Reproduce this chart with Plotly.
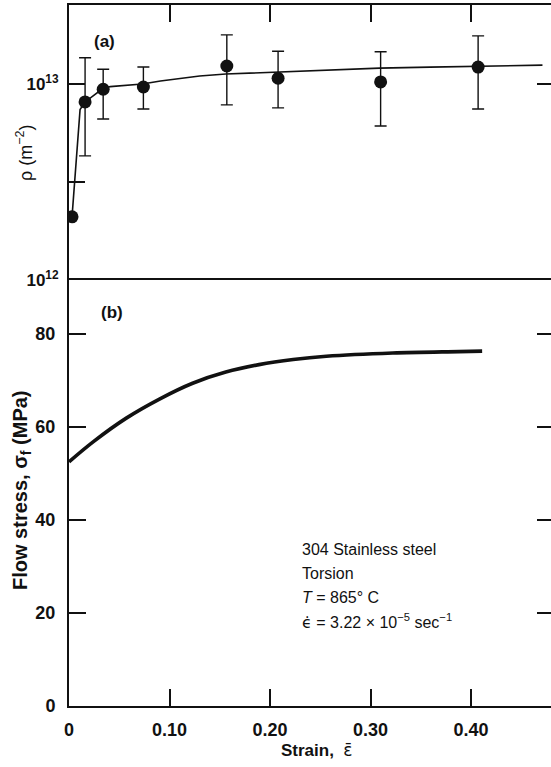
import plotly.graph_objects as go

# ---------------- data ----------------
strain_pts = [0.003, 0.016, 0.034, 0.074, 0.157, 0.208, 0.310, 0.407]
rho_pts = [2.1e12, 8.1e12, 9.4e12, 9.65e12, 1.235e13, 1.07e13, 1.025e13, 1.22e13]
rho_hi = [2.1e12, 1.36e13, 1.19e13, 1.22e13, 1.78e13, 1.47e13, 1.46e13, 1.76e13]
rho_lo = [2.1e12, 4.3e12, 6.63e12, 7.45e12, 7.82e12, 7.55e12, 6.11e12, 7.45e12]

fit_strain = [0.003, 0.011, 0.016, 0.033, 0.041, 0.073, 0.091, 0.130, 0.156,
              0.207, 0.260, 0.309, 0.359, 0.407, 0.471]
fit_rho = [2.1e12, 7.4e12, 8.1e12, 9.43e12, 9.7e12, 1.0e13, 1.035e13, 1.098e13,
           1.124e13, 1.151e13, 1.178e13, 1.205e13, 1.219e13, 1.233e13, 1.248e13]

flow_strain = [0.0, 0.024, 0.057, 0.090, 0.123, 0.156, 0.189, 0.223, 0.256,
               0.322, 0.388, 0.411]
flow_stress = [52.5, 56.8, 61.9, 66.0, 69.4, 71.8, 73.4, 74.5, 75.2, 75.9, 76.2, 76.3]

x_ticks = [0, 0.1, 0.2, 0.3, 0.4]
x_ticktext = ["0", "0.10", "0.20", "0.30", "0.40"]
stress_ticks = [0, 20, 40, 60, 80]
rho_ticks = [1e12, 10 ** 12.5, 1e13]
rho_ticktext = ["10<sup>12</sup>", "", "10<sup>13</sup>"]

err_plus = [h - v for h, v in zip(rho_hi, rho_pts)]
err_minus = [v - l for l, v in zip(rho_lo, rho_pts)]

FONT = "Liberation Sans, Arial, Helvetica, sans-serif"
BLACK = "#111111"

fig = go.Figure()

fig.add_trace(go.Scatter(x=fit_strain, y=fit_rho, mode="lines",
                         line=dict(color=BLACK, width=1.6),
                         xaxis="x", yaxis="y", showlegend=False, hoverinfo="skip"))
fig.add_trace(go.Scatter(x=strain_pts, y=rho_pts, mode="markers",
                         marker=dict(color=BLACK, size=13, symbol="circle"),
                         error_y=dict(type="data", symmetric=False, array=err_plus,
                                      arrayminus=err_minus, color=BLACK,
                                      thickness=1.4, width=6),
                         xaxis="x", yaxis="y", showlegend=False))
fig.add_trace(go.Scatter(x=flow_strain, y=flow_stress, mode="lines",
                         line=dict(color=BLACK, width=3.6, shape="spline", smoothing=1.0),
                         xaxis="x2", yaxis="y2", showlegend=False))
# invisible traces so the right-hand tick axes are drawn
fig.add_trace(go.Scatter(x=flow_strain, y=flow_stress, mode="lines", opacity=0,
                         line=dict(width=0), xaxis="x2", yaxis="y3",
                         showlegend=False, hoverinfo="skip"))
fig.add_trace(go.Scatter(x=fit_strain, y=fit_rho, mode="lines", opacity=0,
                         line=dict(width=0), xaxis="x", yaxis="y4",
                         showlegend=False, hoverinfo="skip"))

SPLIT = (706 - 280) / 701.0
XR = [0, 0.4795]
tickfont = dict(family=FONT, size=18, color=BLACK, weight="bold")
common = dict(showgrid=False, zeroline=False, linecolor=BLACK, linewidth=2,
              tickcolor=BLACK, tickwidth=1.5)

fig.update_layout(
    width=551, height=767,
    margin=dict(l=69, r=0, t=5, b=61),
    paper_bgcolor="white", plot_bgcolor="white",
    xaxis=dict(domain=[0, 1], anchor="y", side="top", range=XR, showline=True,
               ticks="inside", ticklen=17, tickvals=x_ticks[1:], showticklabels=False,
               **common),
    yaxis=dict(domain=[SPLIT, 1], anchor="x", type="log", range=[12, 13.403],
               showline=True, ticks="inside", ticklen=16, tickvals=rho_ticks,
               ticktext=rho_ticktext, ticklabelstandoff=5,
               tickfont=dict(family=FONT, size=17, color=BLACK, weight="bold"),
               **common),
    yaxis4=dict(overlaying="y", anchor="x", side="right", type="log",
                range=[12, 13.403], showline=False, ticks="inside", ticklen=14,
                tickvals=[1e13], showticklabels=False, **common),
    xaxis2=dict(domain=[0, 1], anchor="y2", range=XR, showline=True, mirror=True,
                ticks="inside", ticklen=17, tickvals=x_ticks, ticktext=x_ticktext,
                tickfont=tickfont, ticklabelstandoff=6, **common),
    yaxis2=dict(domain=[0, SPLIT], anchor="x2", range=[0, 91.6], showline=True,
                ticks="inside", ticklen=17, tickvals=stress_ticks, tickfont=tickfont,
                ticklabelstandoff=8, **common),
    yaxis3=dict(overlaying="y2", anchor="x2", side="right", range=[0, 91.6],
                showline=False, ticks="inside", ticklen=14, tickvals=stress_ticks[1:],
                showticklabels=False, **common),
)

def px(xp):
    return (xp - 69) / 482.0

def py(yp):
    return (706 - yp) / 701.0

DV = "<span style='font-family:DejaVu Sans'>{}</span>"

ann = []
def add(text, x, y, size, angle=0, xanchor="center"):
    ann.append(dict(text=text, x=x, y=y, xref="paper", yref="paper", textangle=angle,
                    xanchor=xanchor, yanchor="middle", showarrow=False,
                    font=dict(family=FONT, size=size, color=BLACK)))

add("\u03c1 (m<sup>\u22122</sup>)", px(24), py(153), 18, -90)
add("<b>Flow stress, \u03c3<sub>f</sub> (MPa)</b>", px(21), py(490), 20, -90)
add("<b>Strain,  </b>" + DV.format("\u03b5\u0304"), px(317), py(750), 17)
add("<b>(a)</b>", px(104), py(42), 17)
add("<b>(b)</b>", px(112), py(313), 17)

lines = ["304 Stainless steel", "Torsion", "<i>T</i> = 865\u00b0 C",
         DV.format("\u03f5\u0307") + " = 3.22 \u00d7 10<sup>\u22125</sup> sec<sup>\u22121</sup>"]
for i, t in enumerate(lines):
    add(t, px(300), py(549 + 24 * i), 16, 0, "left")

fig.update_layout(annotations=ann)
fig.write_html("out.html")
